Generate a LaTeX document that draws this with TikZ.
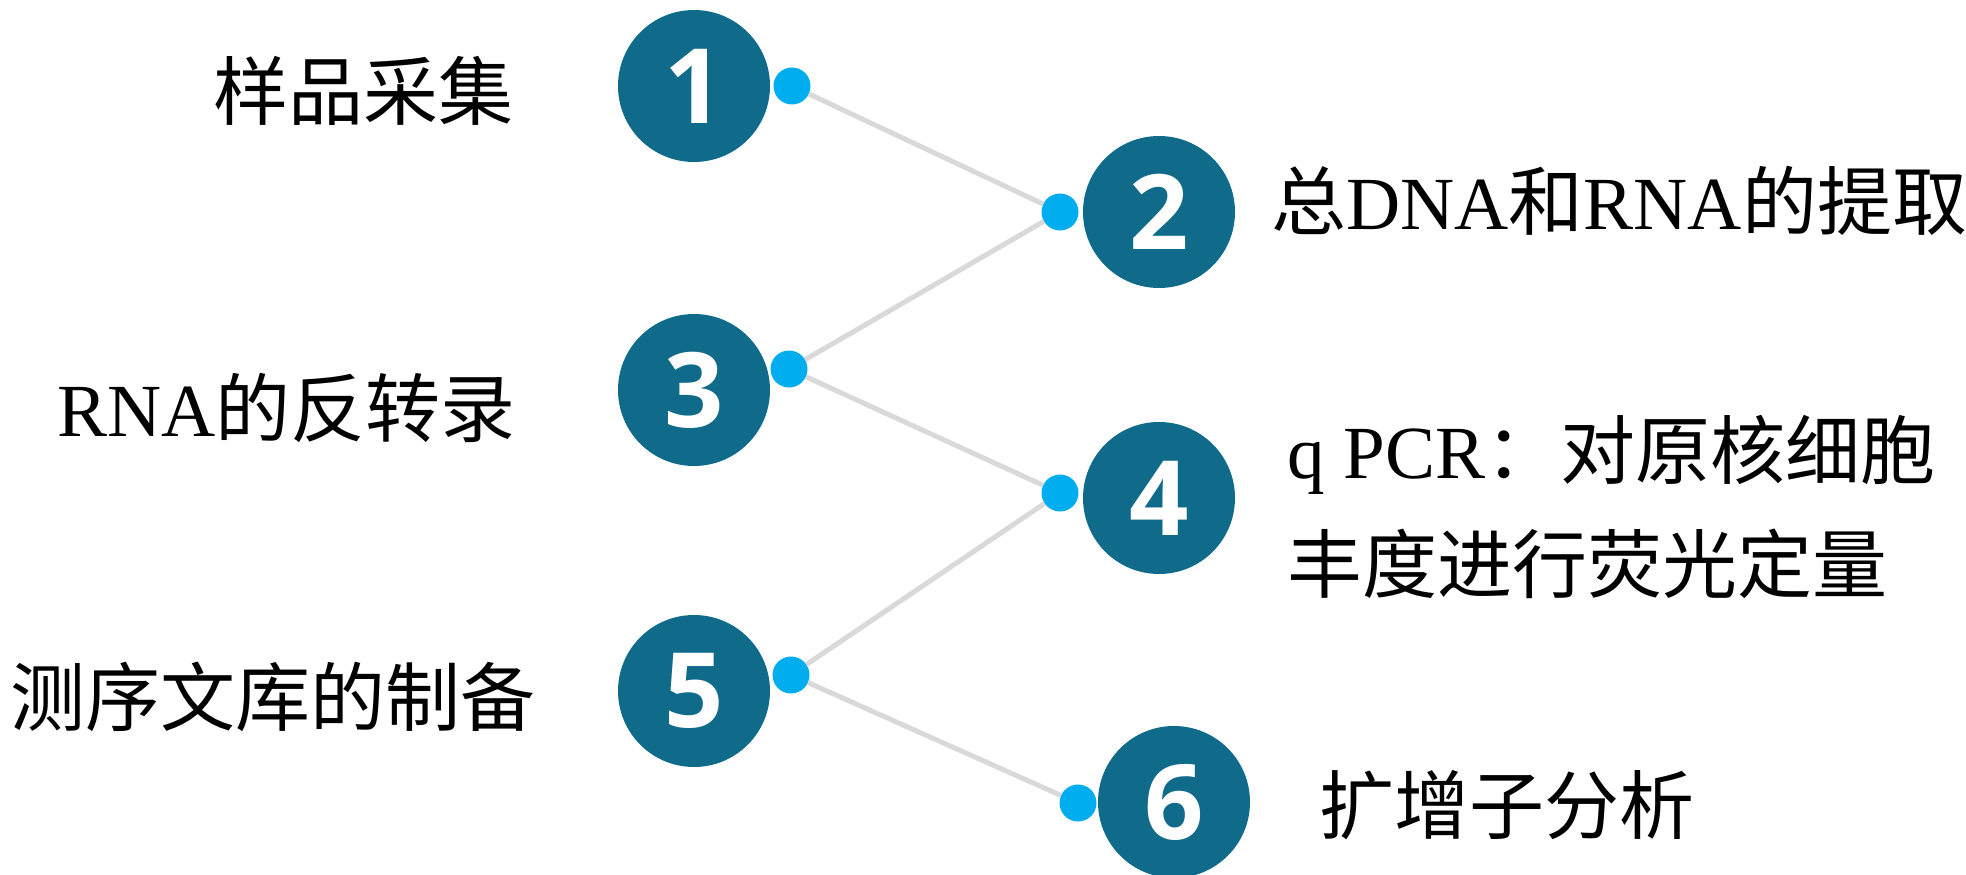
\documentclass[tikz,border=0pt]{standalone}
\usepackage{fontspec}
\setmainfont{Liberation Serif}
\newfontfamily\cjk{Noto Sans CJK SC}
\newfontfamily\numfont{Open Sans}
\definecolor{circfill}{HTML}{106B8A}
\definecolor{dotfill}{HTML}{00AEEF}
\definecolor{linegray}{HTML}{D9D9DA}
\begin{document}
\begin{tikzpicture}[x=1pt,y=-1pt,
  numc/.style={circle,fill=circfill,minimum size=152pt,inner sep=0pt,text=white,font=\numfont\bfseries\fontsize{104}{104}\selectfont},
  dotc/.style={circle,fill=dotfill,minimum size=37pt,inner sep=0pt},
  conn/.style={draw=linegray,line width=5pt},
  lbl/.style={inner sep=0pt,font=\fontsize{75}{114}\selectfont\cjk,align=left}]
\useasboundingbox (0,0) rectangle (1966,875);
\node[numc] (n1) at (694,86) {1};
\node[numc] (n2) at (1159,212) {2};
\node[numc] (n3) at (694,390) {3};
\node[numc] (n4) at (1159,498) {4};
\node[numc] (n5) at (694,691) {5};
\node[numc] (n6) at (1174,802) {6};
\node[dotc] (d1) at (792,86) {};
\node[dotc] (d2) at (1060,212) {};
\node[dotc] (d3) at (789,369) {};
\node[dotc] (d4) at (1060,493) {};
\node[dotc] (d5) at (791,675) {};
\node[dotc] (d6) at (1078,803) {};
\draw[conn] (d1) -- (d2);
\draw[conn] (d2) -- (d3);
\draw[conn] (d3) -- (d4);
\draw[conn] (d4) -- (d5);
\draw[conn] (d5) -- (d6);
\node[lbl,anchor=east] (t1) at (514,91) {样品采集};
\node[lbl,anchor=east] (t3) at (516,408) {{\rmfamily RNA}的反转录};
\node[lbl,anchor=east] (t5) at (536,697) {测序文库的制备};
\node[lbl,anchor=west] (t2) at (1271,201) {总{\rmfamily DNA}和{\rmfamily RNA}的提取};
\node[lbl,anchor=west] (t4) at (1287,507) {{\rmfamily q PCR}：对原核细胞\\丰度进行荧光定量};
\node[lbl,anchor=west] (t6) at (1319,805) {扩增子分析};
\end{tikzpicture}
\end{document}
